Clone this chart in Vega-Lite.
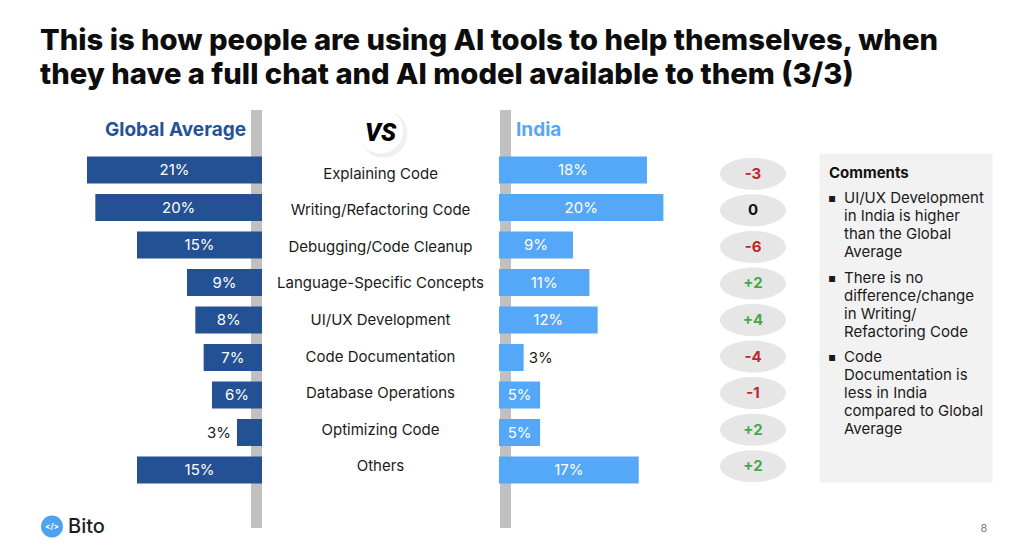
{
  "$schema": "https://vega.github.io/schema/vega-lite/v6.json",
  "background": "white",
  "padding": {"left": 0, "right": 0, "top": 26, "bottom": 0},
  "spacing": 0,
  "title": {
    "text": ["This is how people are using AI tools to help themselves, when", "they have a full chat and AI model available to them (3/3)"],
    "anchor": "start",
    "dx": 40,
    "fontSize": 29.2,
    "fontWeight": 800,
    "font": "Inter",
    "color": "#0D0D0D",
    "lineHeight": 34,
    "offset": 8
  },
  "config": {
    "view": {"stroke": null},
    "font": "Inter",
    "text": {"font": "Inter"},
    "locale": {"number": {"decimal": ".", "thousands": ",", "grouping": [3], "currency": ["$", ""], "minus": "-"}}
  },
  "datasets": {
    "rows": [
      {"cat": "Explaining Code", "global": 0.21, "india": 0.18, "diff": -3},
      {"cat": "Writing/Refactoring Code", "global": 0.20, "india": 0.20, "diff": 0},
      {"cat": "Debugging/Code Cleanup", "global": 0.15, "india": 0.09, "diff": -6},
      {"cat": "Language-Specific Concepts", "global": 0.09, "india": 0.11, "diff": 2},
      {"cat": "UI/UX Development", "global": 0.08, "india": 0.12, "diff": 4},
      {"cat": "Code Documentation", "global": 0.07, "india": 0.03, "diff": -4},
      {"cat": "Database Operations", "global": 0.06, "india": 0.05, "diff": -1},
      {"cat": "Optimizing Code", "global": 0.03, "india": 0.05, "diff": 2},
      {"cat": "Others", "global": 0.15, "india": 0.17, "diff": 2}
    ],
    "comments": [
      {"line": 0, "kind": "head", "text": "Comments"},
      {"line": 1, "kind": "bullet", "text": "UI/UX Development\nin India is higher\nthan the Global\nAverage"},
      {"line": 5, "kind": "bullet", "text": "There is no\ndifference/change\nin Writing/\nRefactoring Code"},
      {"line": 9, "kind": "bullet", "text": "Code\nDocumentation is\nless in India\ncompared to Global\nAverage"}
    ]
  },
  "hconcat": [
    {
      "width": 262,
      "height": 430,
      "data": {"name": "rows"},
      "layer": [
        {
          "data": {"values": [{"sep": "left"}]},
          "mark": {"type": "rule", "color": "#C0C0C0", "strokeWidth": 11, "xOffset": -5.5, "yOffset": 12, "y2Offset": 3},
          "encoding": {"x": {"datum": 0, "type": "quantitative", "scale": {"domain": [0, 0.3144], "reverse": true, "nice": false}, "axis": null}}
        },
        {
          "mark": {"type": "bar", "color": "#245193"},
          "encoding": {
            "x": {"field": "global", "type": "quantitative", "scale": {"domain": [0, 0.3144], "reverse": true, "nice": false}, "axis": null},
            "y": {"field": "cat", "type": "nominal", "sort": null, "axis": null, "scale": {"domain": ["header", "Explaining Code", "Writing/Refactoring Code", "Debugging/Code Cleanup", "Language-Specific Concepts", "UI/UX Development", "Code Documentation", "Database Operations", "Optimizing Code", "Others", "footer"], "range": [21, 423], "paddingInner": 0.28, "paddingOuter": 0}}
          }
        },
        {
          "transform": [{"filter": "datum.global >= 0.05"}, {"calculate": "datum.global / 2", "as": "labelPos"}],
          "mark": {"type": "text", "color": "white", "fontSize": 15},
          "encoding": {
            "x": {"field": "labelPos", "type": "quantitative"},
            "y": {"field": "cat", "type": "nominal", "sort": null},
            "text": {"field": "global", "type": "quantitative", "format": ".0%"}
          }
        },
        {
          "transform": [{"filter": "datum.global < 0.05"}],
          "mark": {"type": "text", "color": "#1A1A1A", "fontSize": 15, "align": "right", "dx": -6},
          "encoding": {
            "x": {"field": "global", "type": "quantitative"},
            "y": {"field": "cat", "type": "nominal", "sort": null},
            "text": {"field": "global", "type": "quantitative", "format": ".0%"}
          }
        },
        {
          "data": {"values": [{"cat": "header", "label": "Global Average"}]},
          "mark": {"type": "text", "color": "#235394", "fontSize": 19, "fontWeight": "bold", "align": "right", "dx": -16, "dy": -3},
          "encoding": {
            "x": {"datum": 0, "type": "quantitative"},
            "y": {"field": "cat", "type": "nominal"},
            "text": {"field": "label"}
          }
        },
        {
          "data": {"values": [{"cat": "footer", "brand": "Bito"}]},
          "mark": {"type": "point", "shape": "circle", "filled": true, "color": "#4DA3EE", "size": 480, "opacity": 1, "yOffset": 19},
          "encoding": {
            "x": {"datum": 0.252, "type": "quantitative"},
            "y": {"field": "cat", "type": "nominal"}
          }
        },
        {
          "data": {"values": [{"cat": "footer", "brand": "Bito"}]},
          "mark": {"type": "text", "color": "white", "fontSize": 8, "fontWeight": "bold", "dy": 19},
          "encoding": {
            "x": {"datum": 0.252, "type": "quantitative"},
            "y": {"field": "cat", "type": "nominal"},
            "text": {"value": "</>"}
          }
        },
        {
          "data": {"values": [{"cat": "footer", "brand": "Bito"}]},
          "mark": {"type": "text", "color": "#1E1E1E", "fontSize": 20, "fontWeight": 500, "align": "left", "dy": 19},
          "encoding": {
            "x": {"datum": 0.2328, "type": "quantitative"},
            "y": {"field": "cat", "type": "nominal"},
            "text": {"field": "brand"}
          }
        }
      ]
    },
    {
      "width": 237,
      "height": 430,
      "data": {"name": "rows"},
      "layer": [
        {
          "mark": {"type": "text", "color": "#1A1A1A", "fontSize": 15},
          "encoding": {
            "y": {"field": "cat", "type": "nominal", "sort": null, "axis": null, "scale": {"domain": ["header", "Explaining Code", "Writing/Refactoring Code", "Debugging/Code Cleanup", "Language-Specific Concepts", "UI/UX Development", "Code Documentation", "Database Operations", "Optimizing Code", "Others", "footer"], "range": [21, 423], "paddingInner": 0.28, "paddingOuter": 0}},
            "text": {"field": "cat"}
          }
        },
        {
          "data": {"values": [{"cat": "header", "label": "VS"}]},
          "mark": {"type": "point", "shape": "circle", "filled": true, "color": "#000000", "opacity": 0.06, "size": 2300, "xOffset": 3, "yOffset": -3.5},
          "encoding": {"y": {"field": "cat", "type": "nominal"}}
        },
        {
          "data": {"values": [{"cat": "header", "label": "VS"}]},
          "mark": {"type": "point", "shape": "circle", "filled": true, "color": "#FFFFFF", "opacity": 1, "size": 2050, "yOffset": -6.5},
          "encoding": {"y": {"field": "cat", "type": "nominal"}}
        },
        {
          "data": {"values": [{"cat": "header", "label": "VS"}]},
          "mark": {"type": "text", "color": "#000000", "fontSize": 25, "fontWeight": 900, "fontStyle": "italic", "font": "Roboto", "dy": -4},
          "encoding": {"y": {"field": "cat", "type": "nominal"}, "text": {"field": "label"}}
        }
      ]
    },
    {
      "width": 188,
      "height": 430,
      "data": {"name": "rows"},
      "layer": [
        {
          "data": {"values": [{"sep": "right"}]},
          "mark": {"type": "rule", "color": "#C0C0C0", "strokeWidth": 11, "xOffset": 6.5, "yOffset": 12, "y2Offset": 3},
          "encoding": {"x": {"datum": 0, "type": "quantitative", "scale": {"domain": [0, 0.2287], "nice": false}, "axis": null}}
        },
        {
          "mark": {"type": "bar", "color": "#55A8F7"},
          "encoding": {
            "x": {"field": "india", "type": "quantitative", "scale": {"domain": [0, 0.2287], "nice": false}, "axis": null},
            "y": {"field": "cat", "type": "nominal", "sort": null, "axis": null, "scale": {"domain": ["header", "Explaining Code", "Writing/Refactoring Code", "Debugging/Code Cleanup", "Language-Specific Concepts", "UI/UX Development", "Code Documentation", "Database Operations", "Optimizing Code", "Others", "footer"], "range": [21, 423], "paddingInner": 0.28, "paddingOuter": 0}}
          }
        },
        {
          "transform": [{"filter": "datum.india >= 0.05"}, {"calculate": "datum.india / 2", "as": "labelPos"}],
          "mark": {"type": "text", "color": "white", "fontSize": 15},
          "encoding": {
            "x": {"field": "labelPos", "type": "quantitative"},
            "y": {"field": "cat", "type": "nominal", "sort": null},
            "text": {"field": "india", "type": "quantitative", "format": ".0%"}
          }
        },
        {
          "transform": [{"filter": "datum.india < 0.05"}],
          "mark": {"type": "text", "color": "#1A1A1A", "fontSize": 15, "align": "left", "dx": 5},
          "encoding": {
            "x": {"field": "india", "type": "quantitative"},
            "y": {"field": "cat", "type": "nominal", "sort": null},
            "text": {"field": "india", "type": "quantitative", "format": ".0%"}
          }
        },
        {
          "data": {"values": [{"cat": "header", "label": "India"}]},
          "mark": {"type": "text", "color": "#55A8F7", "fontSize": 19, "fontWeight": "bold", "align": "left", "dx": 17, "dy": -3},
          "encoding": {
            "x": {"datum": 0, "type": "quantitative"},
            "y": {"field": "cat", "type": "nominal"},
            "text": {"field": "label"}
          }
        }
      ]
    },
    {
      "width": 132,
      "height": 430,
      "data": {"name": "rows"},
      "layer": [
        {
          "mark": {"type": "point", "shape": "M -1 0 A 1 0.485 0 1 0 1 0 A 1 0.485 0 1 0 -1 0 Z", "filled": true, "color": "#E6E6E6", "opacity": 1, "size": 4356},
          "encoding": {
            "y": {"field": "cat", "type": "nominal", "sort": null, "axis": null, "scale": {"domain": ["header", "Explaining Code", "Writing/Refactoring Code", "Debugging/Code Cleanup", "Language-Specific Concepts", "UI/UX Development", "Code Documentation", "Database Operations", "Optimizing Code", "Others", "footer"], "range": [21, 423], "paddingInner": 0.28, "paddingOuter": 0}}
          }
        },
        {
          "mark": {"type": "text", "fontSize": 15, "fontWeight": "bold"},
          "encoding": {
            "y": {"field": "cat", "type": "nominal", "sort": null},
            "text": {"condition": {"test": "datum.diff === 0", "value": "0"}, "field": "diff", "type": "quantitative", "format": "+d"},
            "color": {"condition": [{"test": "datum.diff > 0", "value": "#46A84B"}, {"test": "datum.diff < 0", "value": "#C0282D"}], "value": "#111111"}
          }
        }
      ]
    },
    {
      "width": 172,
      "height": 430,
      "resolve": {"scale": {"y": "independent"}},
      "layer": [
        {
          "data": {"name": "rows"},
          "mark": {"type": "rect", "color": "#F2F2F2", "stroke": "#F2F2F2", "strokeWidth": 1},
          "encoding": {
            "y": {"field": "cat", "type": "nominal", "sort": null, "axis": null, "scale": {"domain": ["Explaining Code", "Writing/Refactoring Code", "Debugging/Code Cleanup", "Language-Specific Concepts", "UI/UX Development", "Code Documentation", "Database Operations", "Optimizing Code", "Others"], "range": [56, 384], "paddingInner": 0, "paddingOuter": 0}}
          }
        },
        {
          "data": {"name": "comments"},
          "transform": [{"filter": "datum.kind === 'head'"}],
          "mark": {"type": "text", "align": "left", "baseline": "alphabetic", "dx": -77, "dy": -5, "fontSize": 15, "fontWeight": "bold", "color": "#111111"},
          "encoding": {
            "y": {"field": "line", "type": "quantitative", "axis": null, "scale": {"domain": [1, 9], "range": [105, 264], "zero": false, "nice": false}},
            "text": {"field": "text"}
          }
        },
        {
          "data": {"name": "comments"},
          "transform": [{"filter": "datum.kind === 'bullet'"}],
          "mark": {"type": "text", "align": "left", "baseline": "alphabetic", "dx": -62, "fontSize": 15, "lineHeight": 18, "lineBreak": "\n", "color": "#1A1A1A"},
          "encoding": {
            "y": {"field": "line", "type": "quantitative", "axis": null, "scale": {"domain": [1, 9], "range": [105, 264], "zero": false, "nice": false}},
            "text": {"field": "text"}
          }
        },
        {
          "data": {"name": "comments"},
          "transform": [{"filter": "datum.kind === 'bullet'"}],
          "mark": {"type": "text", "align": "left", "baseline": "alphabetic", "dx": -78, "dy": -1, "fontSize": 12, "font": "DejaVu Sans", "color": "#1A1A1A"},
          "encoding": {
            "y": {"field": "line", "type": "quantitative", "axis": null, "scale": {"domain": [1, 9], "range": [105, 264], "zero": false, "nice": false}},
            "text": {"value": "▪"}
          }
        },
        {
          "data": {"values": [{"cat": "footer", "page": "8"}]},
          "mark": {"type": "text", "dx": 78, "dy": 26, "fontSize": 11, "color": "#808080"},
          "encoding": {
            "y": {"field": "cat", "type": "nominal", "axis": null, "scale": {"domain": ["header", "Explaining Code", "Writing/Refactoring Code", "Debugging/Code Cleanup", "Language-Specific Concepts", "UI/UX Development", "Code Documentation", "Database Operations", "Optimizing Code", "Others", "footer"], "range": [21, 423], "paddingInner": 0.28, "paddingOuter": 0}},
            "text": {"field": "page"}
          }
        }
      ]
    }
  ]
}
